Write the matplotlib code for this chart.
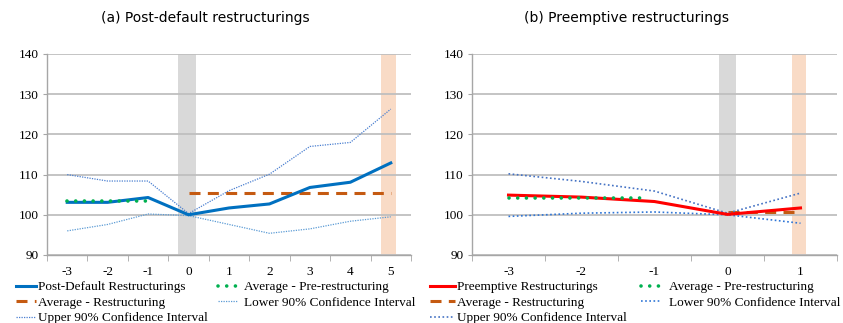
import matplotlib
matplotlib.use("Agg")
import matplotlib.pyplot as plt

# panel (a): post-default restructurings
a_x = [-3, -2, -1, 0, 1, 2, 3, 4, 5]
a_main = [103.1, 103.1, 104.3, 100.0, 101.7, 102.7, 106.8, 108.1, 112.9]
a_upper = [110.0, 108.4, 108.4, 100.3, 106.0, 110.1, 117.0, 118.0, 126.3]
a_lower = [96.0, 97.6, 100.2, 99.8, 97.6, 95.4, 96.5, 98.4, 99.5]
a_pre_avg = 103.4
a_post_avg = 105.3

# panel (b): preemptive restructurings
b_x = [-3, -2, -1, 0, 1]
b_main = [104.9, 104.4, 103.3, 100.1, 101.7]
b_upper = [110.2, 108.3, 105.9, 100.4, 105.4]
b_lower = [99.6, 100.4, 100.7, 100.0, 97.9]
b_pre_avg = 104.2
b_post_avg = 100.8

yticks = [90, 100, 110, 120, 130, 140]

plt.rcParams['font.family'] = ['Liberation Serif', 'DejaVu Serif']
plt.rcParams['axes.unicode_minus'] = False

fig = plt.figure(figsize=(8.43, 3.23), dpi=100)
W, H = 843, 323


def make_ax(x0, x1, y0, y1):
    return fig.add_axes([x0 / W, 1 - y1 / H, (x1 - x0) / W, (y1 - y0) / H])


def style(ax, xs):
    ax.set_xlim(xs[0] - 0.5, xs[-1] + 0.5)
    ax.set_ylim(90, 140)
    ax.set_yticks(yticks)
    ax.set_xticks(xs)
    ax.set_xticks([v - 0.5 for v in xs] + [xs[-1] + 0.5], minor=True)
    ax.tick_params(axis='x', which='major', length=0, pad=8, labelsize=9.5)
    ax.tick_params(axis='x', which='minor', length=4, color='#a6a6a6', direction='out')
    ax.tick_params(axis='y', length=3, color='#a6a6a6', labelsize=9.5, pad=3)
    ax.grid(axis='y', color='#bfbfbf', lw=1.3)
    ax.set_axisbelow(True)
    for s in ['top', 'right']:
        ax.spines[s].set_visible(False)
    for s in ['left', 'bottom']:
        ax.spines[s].set_color('#a6a6a6')
        ax.spines[s].set_linewidth(1.0)


dots = (0, (0.01, 2.4))
dash = (0, (3.6, 2.4))

# ---- panel a
ax1 = make_ax(47, 411, 54, 255)
style(ax1, a_x)
ax1.axvspan(-0.27, 0.18, color='#d9d9d9', zorder=0, lw=0)
ax1.axvspan(4.76, 5.12, color='#f9dbc6', zorder=0, lw=0)
l1, = ax1.plot(a_x, a_main, color='#0070c0', lw=2.2, label='Post-Default Restructurings', zorder=4)
l2, = ax1.plot([-3, -1.05], [a_pre_avg, a_pre_avg], color='#00b050', lw=2.6, ls=dots,
               dash_capstyle='round', label='Average - Pre-restructuring', zorder=5)
l3, = ax1.plot([0, 5], [a_post_avg, a_post_avg], color='#c55a11', lw=2.2, ls=dash,
               label='Average - Restructuring', zorder=3)
l4, = ax1.plot(a_x, a_lower, color='#5b9bd5', lw=0.9, ls=(0, (1, 1)),
               label='Lower 90% Confidence Interval', zorder=3)
l5, = ax1.plot(a_x, a_upper, color='#4a7fd0', lw=0.9, ls=(0, (1, 1)),
               label='Upper 90% Confidence Interval', zorder=3)

fig.text(205 / W, 1 - 18 / H, '(a) Post-default restructurings', ha='center', va='center',
         fontsize=10, family='DejaVu Sans')

leg_kw = dict(frameon=False, fontsize=9.5, handlelength=1.5, handletextpad=0.15,
              labelspacing=0.25, borderaxespad=0, borderpad=0, loc='upper left')
fig.legend([l1, l3, l5], [l.get_label() for l in (l1, l3, l5)],
           bbox_to_anchor=(16 / W, 1 - 281 / H), **leg_kw)
fig.legend([l2, l4], [l.get_label() for l in (l2, l4)],
           bbox_to_anchor=(218 / W, 1 - 281 / H), **dict(leg_kw, handletextpad=0.5))

# ---- panel b
ax2 = make_ax(472, 837, 54, 255)
style(ax2, b_x)
ax2.axvspan(-0.12, 0.12, color='#d9d9d9', zorder=0, lw=0)
ax2.axvspan(0.89, 1.08, color='#f9dbc6', zorder=0, lw=0)
m1, = ax2.plot(b_x, b_main, color='#ff0000', lw=2.2, label='Preemptive Restructurings', zorder=4)
m2, = ax2.plot([-3, -1.1], [b_pre_avg, b_pre_avg], color='#00b050', lw=2.6, ls=dots,
               dash_capstyle='round', label='Average - Pre-restructuring', zorder=5)
m3, = ax2.plot([0, 1], [b_post_avg, b_post_avg], color='#c55a11', lw=2.2, ls=dash,
               label='Average - Restructuring', zorder=3)
m4, = ax2.plot(b_x, b_lower, color='#2e75d6', lw=1.2, ls=(0, (1, 1.5)),
               label='Lower 90% Confidence Interval', zorder=3)
m5, = ax2.plot(b_x, b_upper, color='#4472c4', lw=1.2, ls=(0, (1, 1.5)),
               label='Upper 90% Confidence Interval', zorder=3)

fig.text(627 / W, 1 - 18 / H, '(b) Preemptive restructurings', ha='center', va='center',
         fontsize=10, family='DejaVu Sans')

fig.legend([m1, m3, m5], [l.get_label() for l in (m1, m3, m5)],
           bbox_to_anchor=(430 / W, 1 - 281 / H), **dict(leg_kw, handlelength=1.9))
fig.legend([m2, m4], [l.get_label() for l in (m2, m4)],
           bbox_to_anchor=(641 / W, 1 - 281 / H), **dict(leg_kw, handletextpad=0.6))

fig.savefig('out.png', dpi=100)
